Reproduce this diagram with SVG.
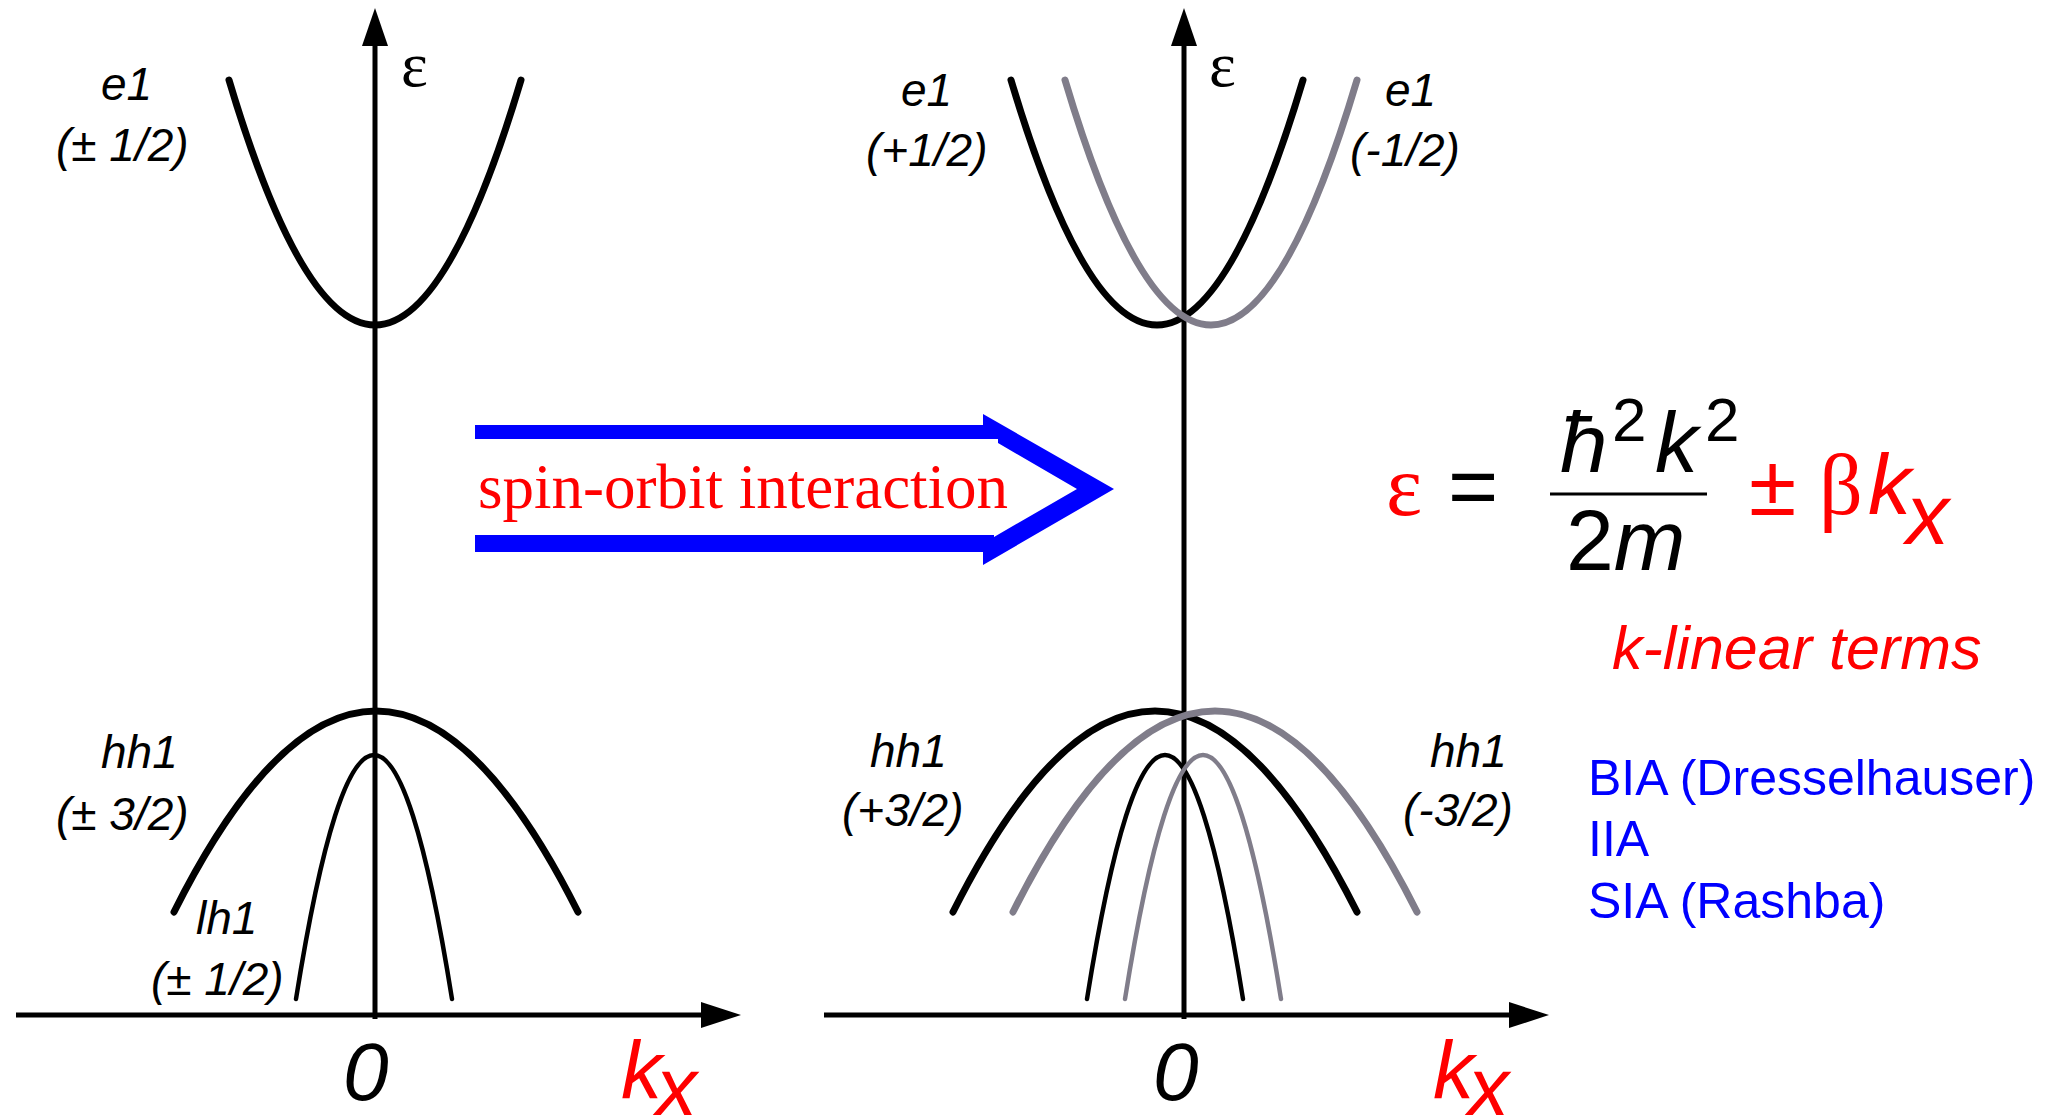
<svg xmlns="http://www.w3.org/2000/svg" width="2050" height="1120" viewBox="0 0 2050 1120">
<style>
.ax{stroke:#000;stroke-width:5;fill:none}
.ah{fill:#000}
.bk{stroke:#000;fill:none;stroke-linecap:round}
.gr{stroke:#807d8a;fill:none;stroke-linecap:round}
.thick{stroke-width:7}
.thin{stroke-width:4.5}
.lab{font-family:"Liberation Sans",Arial,sans-serif;font-style:italic;font-size:46px;fill:#000}
.eps{font-family:"Liberation Serif","Times New Roman",serif;font-size:64px;fill:#000}
.zero{font-family:"Liberation Sans",Arial,sans-serif;font-style:italic;font-size:82px;fill:#000}
.kx{font-family:"Liberation Sans",Arial,sans-serif;font-style:italic;font-size:82px;fill:#ff0000}
.so{font-family:"Liberation Serif","Times New Roman",serif;font-size:63px;fill:#ff0000}
.fs{font-family:"Liberation Sans",Arial,sans-serif;font-size:86px;fill:#000}
.fi{font-style:italic}
.red{fill:#ff0000}
.fser{font-family:"Liberation Serif","Times New Roman",serif}
.sup{font-family:"Liberation Sans",Arial,sans-serif;font-size:62px;fill:#000}
.klin{font-family:"Liberation Sans",Arial,sans-serif;font-style:italic;font-size:61px;fill:#ff0000}
.blue{font-family:"Liberation Sans",Arial,sans-serif;font-size:50px;fill:#0000ff}
</style>
<rect width="2050" height="1120" fill="#fff"/>
<g id="connectors">
  <g id="left-axes">
    <line class="ax" x1="375" y1="40" x2="375" y2="1019"/>
    <polygon class="ah" points="375,8 388,46 362,46"/>
    <line class="ax" x1="16" y1="1015" x2="705" y2="1015"/>
    <polygon class="ah" points="741,1015 701,1002 701,1028"/>
  </g>
  <g id="right-axes">
    <line class="ax" x1="1184" y1="40" x2="1184" y2="1019"/>
    <polygon class="ah" points="1184,8 1197,46 1171,46"/>
    <line class="ax" x1="824" y1="1015" x2="1512" y2="1015"/>
    <polygon class="ah" points="1549,1015 1509,1002 1509,1028"/>
  </g>
  <g id="spin-orbit-arrow">
    <polygon fill="#0000ff" points="475,425 983,425 983,414 1114,489 983,565 983,552 475,552 475,535 994,535 994,537 1077,489 998,443 998,439 475,439"/>
  </g>
</g>
<g id="left-e1"><path class="bk thick" d="M229,80 Q375,570 521,80"/></g>
<g id="left-hh1"><path class="bk thick" d="M174,912 Q376,510 578,912"/></g>
<g id="left-lh1"><path class="bk thin" d="M296,999 Q374,511 452,999"/></g>
<g id="right-e1-plus"><path class="bk thick" d="M1011,80 Q1157,570 1303,80"/></g>
<g id="right-e1-minus"><path class="gr thick" d="M1065,80 Q1211,570 1357,80"/></g>
<g id="right-hh1-plus"><path class="bk thick" d="M953,912 Q1155,510 1357,912"/></g>
<g id="right-hh1-minus"><path class="gr thick" d="M1013,912 Q1215,510 1417,912"/></g>
<g id="right-lh1-plus"><path class="bk thin" d="M1087,999 Q1165,511 1243,999"/></g>
<g id="right-lh1-minus"><path class="gr thin" d="M1125,999 Q1203,511 1281,999"/></g>
<g id="labels-left">
  <text class="eps" x="401" y="86">ε</text>
  <text class="lab" x="101" y="100">e1</text>
  <text class="lab" x="56" y="161">(± 1/2)</text>
  <text class="lab" x="101" y="768">hh1</text>
  <text class="lab" x="56" y="830">(± 3/2)</text>
  <text class="lab" x="196" y="934">lh1</text>
  <text class="lab" x="151" y="995">(± 1/2)</text>
  <text class="zero" x="343" y="1100">0</text>
  <text class="kx" x="621" y="1098">k<tspan dx="-6" dy="17">x</tspan></text>
</g>
<g id="labels-right">
  <text class="eps" x="1209" y="86">ε</text>
  <text class="lab" x="901" y="106">e1</text>
  <text class="lab" x="866" y="166">(+1/2)</text>
  <text class="lab" x="1385" y="106">e1</text>
  <text class="lab" x="1350" y="166">(-1/2)</text>
  <text class="lab" x="870" y="767">hh1</text>
  <text class="lab" x="842" y="826">(+3/2)</text>
  <text class="lab" x="1430" y="767">hh1</text>
  <text class="lab" x="1403" y="826">(-3/2)</text>
  <text class="zero" x="1153" y="1100">0</text>
  <text class="kx" x="1433" y="1098">k<tspan dx="-6" dy="17">x</tspan></text>
</g>
<g id="spin-orbit-label">
  <text class="so" x="478" y="508">spin-orbit interaction</text>
</g>
<g id="formula">
  <text class="fs fser red" x="1386" y="515" font-size="86">ε</text>
  <text class="fs" x="1448" y="515">=</text>
  <text class="fs fi" x="1560" y="472" font-size="90">ħ</text>
  <text class="sup" x="1612" y="441">2</text>
  <text class="fs fi" x="1655" y="472">k</text>
  <text class="sup" x="1705" y="441">2</text>
  <line x1="1550" y1="494" x2="1707" y2="494" stroke="#000" stroke-width="3"/>
  <text class="fs" x="1566" y="570">2<tspan class="fi">m</tspan></text>
  <text class="fs red" x="1749" y="515">±</text>
  <text class="fs fser red" x="1819" y="514" font-size="90">β</text>
  <text class="fs fi red" x="1868" y="514">k</text>
  <text class="fs fi red" x="1906" y="544">x</text>
</g>
<g id="k-linear">
  <text class="klin" x="1612" y="669">k-linear terms</text>
</g>
<g id="mechanisms">
  <text class="blue" x="1588" y="795">BIA (Dresselhauser)</text>
  <text class="blue" x="1588" y="856">IIA</text>
  <text class="blue" x="1588" y="918">SIA (Rashba)</text>
</g>
</svg>
